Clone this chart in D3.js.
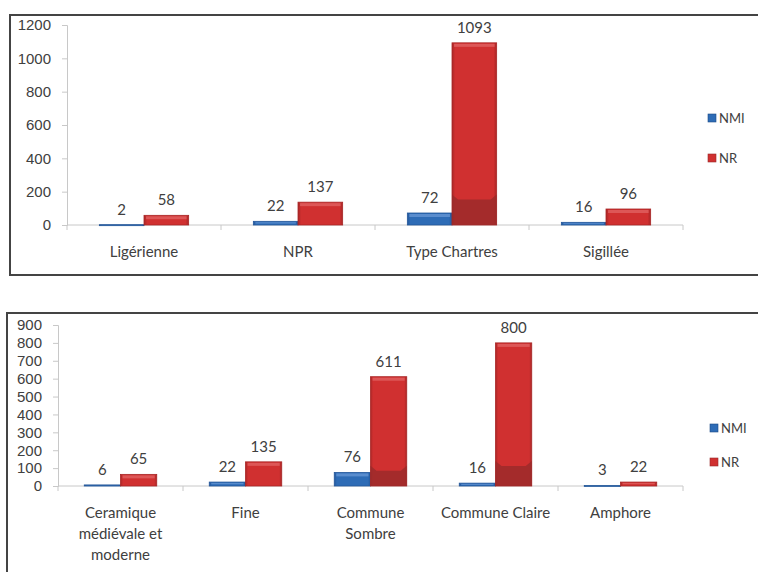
<!DOCTYPE html>
<html>
<head>
<meta charset="utf-8">
<script src="https://cdn.jsdelivr.net/npm/d3@7"></script>
<style>
  body { margin: 0; background: #fff; }
  svg { display: block; font-family: Lato, "Open Sans", sans-serif; }
</style>
</head>
<body>
<div id="viz"></div>
<script>
// top chart
const topCategories = ["Ligérienne", "NPR", "Type Chartres", "Sigillée"];
const topNMI = [2, 22, 72, 16];
const topNR = [58, 137, 1093, 96];
const topTicks = [0, 200, 400, 600, 800, 1000, 1200];

// bottom chart
const bottomCategories = ["Ceramique\nmédiévale et\nmoderne", "Fine", "Commune\nSombre", "Commune Claire", "Amphore"];
const bottomNMI = [6, 22, 76, 16, 3];
const bottomNR = [65, 135, 611, 800, 22];
const bottomTicks = [0, 100, 200, 300, 400, 500, 600, 700, 800, 900];

const seriesNames = ["NMI", "NR"];

document.addEventListener("DOMContentLoaded", () => {
    const width = 758;
    const height = 572;

    const svg = d3.select('#viz').append('svg')
        .attr('width', width)
        .attr('height', height);

    const defs = svg.append('defs');
    const palette = {
        NMI: { main: '#2e6cb6', light: '#7fa9e2', dark: '#1d4a85', edge: '#24579a' },
        NR: { main: '#d03030', light: '#e87878', dark: '#982a2a', edge: '#a82626' }
    };
    seriesNames.forEach(s => {
        const grad = defs.append('linearGradient')
            .attr('id', 'grad-' + s)
            .attr('x1', 0).attr('x2', 1).attr('y1', 0).attr('y2', 0);
        grad.append('stop').attr('offset', '0%').attr('stop-color', palette[s].edge);
        grad.append('stop').attr('offset', '7%').attr('stop-color', palette[s].main);
        grad.append('stop').attr('offset', '93%').attr('stop-color', palette[s].main);
        grad.append('stop').attr('offset', '100%').attr('stop-color', palette[s].edge);
    });

    function drawChart(cfg) {
        const g = svg.append('g');

        // frame
        g.append('rect')
            .attr('x', cfg.frame[0]).attr('y', cfg.frame[1])
            .attr('width', cfg.frame[2]).attr('height', cfg.frame[3])
            .attr('fill', 'none')
            .attr('stroke', '#444')
            .attr('stroke-width', 2);

        const y = d3.scaleLinear()
            .domain([0, d3.max(cfg.ticks)])
            .range([cfg.bottom, cfg.top]);

        const x0 = d3.scaleBand()
            .domain(cfg.categories)
            .range([cfg.left, cfg.right])
            .padding(0);

        const bw = x0.bandwidth();
        const x1 = d3.scaleBand()
            .domain(seriesNames)
            .range([bw * 0.21, bw * 0.79])
            .padding(0);

        // y axis
        const yAxis = d3.axisLeft(y)
            .tickValues(cfg.ticks)
            .tickFormat(d3.format('d'))
            .tickSize(5)
            .tickPadding(11);
        const ya = g.append('g')
            .attr('transform', `translate(${cfg.left},0)`)
            .call(yAxis);
        ya.select('.domain').attr('stroke', '#c8c8c8');
        ya.selectAll('.tick line').attr('stroke', '#c8c8c8');
        ya.selectAll('.tick text')
            .attr('fill', '#404040')
            .style('font-size', cfg.tickFont + 'px');

        // x axis with ticks at category boundaries
        const xa = g.append('g')
            .attr('transform', `translate(0,${cfg.bottom})`);
        xa.append('line')
            .attr('x1', cfg.left).attr('x2', cfg.right)
            .attr('stroke', '#c8c8c8');
        const bounds = cfg.categories.map(c => x0(c)).concat([cfg.right]);
        xa.selectAll('.bound')
            .data(bounds)
            .enter()
            .append('line')
            .attr('x1', d => d).attr('x2', d => d)
            .attr('y1', 0).attr('y2', 5)
            .attr('stroke', '#c8c8c8');

        // category labels
        cfg.categories.forEach(c => {
            const lines = c.split('\n');
            const t = g.append('text')
                .attr('x', x0(c) + bw / 2)
                .attr('y', cfg.labelY)
                .attr('text-anchor', 'middle')
                .attr('fill', '#404040')
                .style('font-size', '15px');
            lines.forEach((l, i) => {
                t.append('tspan')
                    .attr('x', x0(c) + bw / 2)
                    .attr('dy', i === 0 ? 0 : 21)
                    .text(l);
            });
        });

        // bars
        const rows = cfg.categories.map((c, i) => ({
            cat: c,
            vals: [{ s: 'NMI', v: cfg.nmi[i] }, { s: 'NR', v: cfg.nr[i] }]
        }));

        const groups = g.selectAll('.grp')
            .data(rows)
            .enter()
            .append('g')
            .attr('transform', d => `translate(${x0(d.cat)},0)`);

        const bars = groups.selectAll('.bar')
            .data(d => d.vals)
            .enter()
            .append('g');

        const w = x1.bandwidth();
        bars.append('rect')
            .attr('x', d => x1(d.s))
            .attr('y', d => y(d.v))
            .attr('width', w)
            .attr('height', d => Math.max(1, y(0) - y(d.v)))
            .attr('fill', d => `url(#grad-${d.s})`)
            .attr('stroke', d => palette[d.s].edge)
            .attr('stroke-width', 0.8);

        // darker lower part, only on tall bars
        bars.append('path')
            .attr('d', d => {
                const h = y(0) - y(d.v);
                if (h < 40) return null;
                const dd = h * 0.14;
                const xl = x1(d.s), xr = xl + w, yb = y(0);
                return `M${xl},${yb}L${xr},${yb}L${xr},${yb - dd - 5}L${xr - 6},${yb - dd}L${xl + 6},${yb - dd}L${xl},${yb - dd - 5}Z`;
            })
            .attr('fill', d => palette[d.s].dark)
            .attr('opacity', 0.8);

        // soft top bevel
        bars.append('rect')
            .attr('x', d => x1(d.s) + 2)
            .attr('y', d => y(d.v) + 1)
            .attr('width', w - 4)
            .attr('height', d => Math.min(3, Math.max(0, (y(0) - y(d.v)) * 0.3)))
            .attr('fill', d => palette[d.s].light)
            .attr('opacity', 0.55);

        // value labels
        bars.append('text')
            .attr('x', d => x1(d.s) + w / 2)
            .attr('y', d => y(d.v) - 10)
            .attr('text-anchor', 'middle')
            .attr('fill', '#404040')
            .style('font-size', '15px')
            .text(d => d.v);

        // legend
        const lg = g.selectAll('.leg')
            .data(seriesNames)
            .enter()
            .append('g')
            .attr('transform', (d, i) => `translate(${cfg.legendX},${cfg.legendY[i]})`);
        lg.append('rect')
            .attr('x', 0).attr('y', -4)
            .attr('width', 8).attr('height', 8)
            .attr('fill', d => palette[d].main)
            .attr('stroke', d => palette[d].dark)
            .attr('stroke-width', 0.6);
        lg.append('text')
            .attr('x', 11)
            .attr('y', 5)
            .attr('fill', '#404040')
            .style('font-size', '13px')
            .text(d => d);
    }

    drawChart({
        frame: [10, 15, 760, 260],
        categories: topCategories,
        nmi: topNMI,
        nr: topNR,
        ticks: topTicks,
        left: 67, right: 683, top: 25, bottom: 225,
        tickFont: 15,
        labelY: 257,
        legendX: 708,
        legendY: [118, 158]
    });

    drawChart({
        frame: [7, 313, 760, 270],
        categories: bottomCategories,
        nmi: bottomNMI,
        nr: bottomNR,
        ticks: bottomTicks,
        left: 58, right: 683, top: 325, bottom: 486,
        tickFont: 15,
        labelY: 518,
        legendX: 710,
        legendY: [428, 462]
    });
});
</script>
</body>
</html>
